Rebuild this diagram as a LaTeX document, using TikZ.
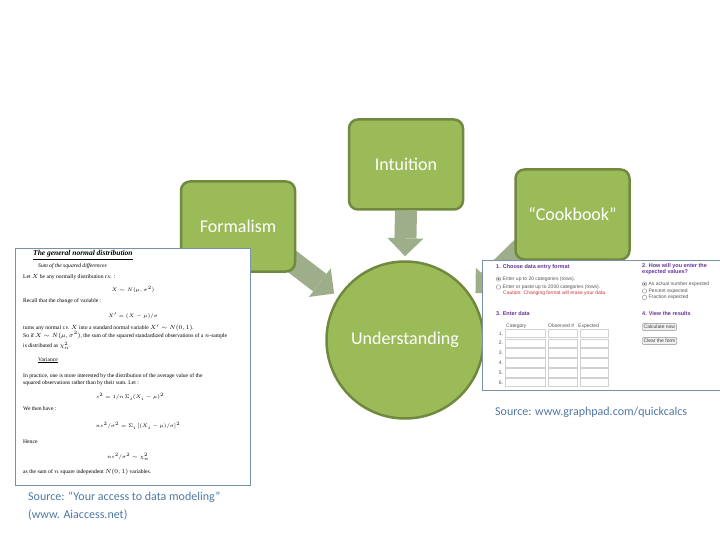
\documentclass[tikz,border=0pt]{standalone}
\usepackage{fontspec}
\usepackage{amsmath}
\newfontfamily\calibri{Carlito}
\newfontfamily\timesfont{Liberation Serif}
\newfontfamily\webfont{Liberation Sans}
\usetikzlibrary{arrows.meta,backgrounds,positioning}

\definecolor{leaf}{HTML}{9BBB59}
\definecolor{leafdark}{HTML}{71893F}
\definecolor{arrowgray}{HTML}{9FAE8A}
\definecolor{framegray}{HTML}{7791AE}
\definecolor{srcblue}{HTML}{5077A3}
\definecolor{webpurple}{HTML}{663399}
\definecolor{webred}{HTML}{CC3333}
\definecolor{webgray}{HTML}{555555}

\tikzset{
  idea/.style={draw=leafdark, fill=leaf, line width=2.5pt, rounded corners=9pt,
    minimum width=114pt, minimum height=90pt, text=white,
    font=\calibri\fontsize{18}{20}\selectfont},
  core/.style={circle, draw=leafdark, fill=leaf, line width=2.5pt,
    minimum size=157pt, text=white, font=\calibri\fontsize{18}{20}\selectfont},
  flow/.style={draw=arrowgray, line width=22pt,
    -{Triangle[length=18pt,width=36pt,line width=0pt]}},
  shot/.style={draw=framegray, fill=white, line width=1.2pt},
  source/.style={text=srcblue, font=\calibri\fontsize{12}{18}\selectfont,
    align=left, inner sep=0pt},
  docline/.style={anchor=west, inner sep=0pt, font=\timesfont\fontsize{5.6}{6.5}\selectfont},
  doceq/.style={inner sep=0pt, font=\timesfont\fontsize{5.3}{6}\selectfont},
  webline/.style={anchor=west, inner sep=0pt, text=webgray,
    font=\webfont\fontsize{5}{6}\selectfont},
  webhead/.style={anchor=west, inner sep=0pt, text=webpurple,
    font=\webfont\bfseries\fontsize{5.5}{6.5}\selectfont},
  cell/.style={draw=black!18, line width=0.5pt},
  radio/.style={circle, draw=black!45, fill=white, inner sep=0pt,
    minimum size=4.5pt, line width=0.4pt},
  radioon/.style={radio, path picture={\fill[black!60]
    (path picture bounding box.center) circle (1.1pt);}},
  webbutton/.style={draw=black!45, fill=black!6, rounded corners=1pt,
    inner sep=1.5pt, text=black!75, font=\webfont\fontsize{5}{6}\selectfont}
}

\begin{document}
\begin{tikzpicture}[x=1pt, y=-1pt]
  \useasboundingbox (0,0) rectangle (720,540);

  % the three ways in, and where they meet
  \node[idea] (intu) at (406,164.5) {Intuition};
  \node[idea] (form) at (238,226.5) {Formalism};
  \node[idea] (cook) at (572.5,214.5) {“Cookbook”};
  \node[core] (und) at (405,340) {Understanding};

  \begin{scope}[on background layer]
    \draw[flow, shorten >=4pt] (intu.south) -- (und.north);
    \draw[flow, shorten >=5pt] ([shift={(-13,-18)}]form.south east) -- (und.147);
    \draw[flow, shorten >=5pt] ([shift={(13,-18)}]cook.south west) -- (und.33);
  \end{scope}

  % left screenshot: the formal text
  \node[shot, anchor=north west, minimum width=235pt, minimum height=237pt] (doc) at (15,248) {};
  \node[docline, font=\timesfont\bfseries\itshape\fontsize{7.5}{8}\selectfont] (doctitle) at (33,255)
    {\underline{The general normal distribution}};
  \node[docline, font=\timesfont\itshape\fontsize{5.6}{6.5}\selectfont] (docsub) at (38,266)
    {Sum of the squared differences};
  \node[docline] (dl1) at (23,277) {Let $X$ be any normally distribution r.v. :};
  \node[doceq] (de1) at (133,290) {$X \sim N(\mu, \sigma^2)$};
  \node[docline] (dl2) at (23,301) {Recall that the change of variable :};
  \node[doceq] (de2) at (133,316) {$X' = (X - \mu)/\sigma$};
  \node[docline] (dl3) at (23,328) {turns any normal r.v. $X$ into a standard normal variable $X' \sim N(0,1)$.};
  \node[docline] (dl4) at (23,335) {So if $X \sim N(\mu, \sigma^2)$, the sum of the squared standardized observations of a $n$-sample};
  \node[docline] (dl5) at (23,346) {is distributed as $\chi^2_n$.};
  \node[docline] (dvar) at (38,360) {\underline{Variance}};
  \node[docline] (dl6) at (23,376) {In practice, one is more interested by the distribution of the average value of the};
  \node[docline] (dl7) at (23,383) {squared observations rather than by their sum. Let :};
  \node[doceq] (de3) at (130,397) {$s^2 = 1/n\,\Sigma_i(X_i - \mu)^2$};
  \node[docline] (dl8) at (23,409) {We then have :};
  \node[doceq] (de4) at (138,426) {$ns^2/\sigma^2 = \Sigma_i\,[(X_i - \mu)/\sigma]^2$};
  \node[docline] (dl9) at (23,442) {Hence};
  \node[doceq] (de5) at (128,457) {$ns^2/\sigma^2 \sim \chi^2_n$};
  \node[docline] (dl10) at (23,472) {as the sum of $n$ square independent $N(0,1)$ variables.};
  \node[source, anchor=north west] (docsrc) at (28,492)
    {Source: “Your access to data modeling”\\(www. Aiaccess.net)};

  % right screenshot: the calculator form
  \node[shot, anchor=north west, minimum width=242pt, minimum height=130pt] (calc) at (482,260) {};
  \node[webhead] (step1) at (496,267) {1. Choose data entry format};
  \node[radioon] (r1) at (498.5,279) {};
  \node[webline, right=1.5pt of r1] (r1txt) {Enter up to 20 categories (rows).};
  \node[radio] (r2) at (498.5,287) {};
  \node[webline, right=1.5pt of r2] (r2txt) {Enter or paste up to 2000 categories (rows).};
  \node[webline, text=webred] (caution) at (503,293) {Caution: Changing format will erase your data.};
  \node[webhead] (step3) at (496,314) {3. Enter data};
  \node[webline] (hcat) at (506,326) {Category};
  \node[webline] (hobs) at (548,326) {Observed \#};
  \node[webline] (hexp) at (578,326) {Expected};
  \foreach \r in {1,...,6} {
    \pgfmathsetmacro\ytop{329+(\r-1)*9.8}
    \node[webline, anchor=center] (row\r) at (501,\ytop+4.3) {\r.};
    \draw[cell] (505,\ytop) rectangle (545,\ytop+8.6);
    \draw[cell] (548,\ytop) rectangle (577,\ytop+8.6);
    \draw[cell] (580,\ytop) rectangle (608,\ytop+8.6);
  }
  \node[webhead, align=left, anchor=north west] (step2) at (642,263)
    {2. How will you enter the\\expected values?};
  \node[radioon] (r3) at (644.5,284) {};
  \node[webline, right=1.5pt of r3] (r3txt) {As actual number expected};
  \node[radio] (r4) at (644.5,291) {};
  \node[webline, right=1.5pt of r4] (r4txt) {Percent expected};
  \node[radio] (r5) at (644.5,297.5) {};
  \node[webline, right=1.5pt of r5] (r5txt) {Fraction expected};
  \node[webhead] (step4) at (642,314) {4. View the results};
  \node[webbutton, anchor=west] (calcbtn) at (642,327) {Calculate now};
  \node[webbutton, anchor=west] (clearbtn) at (642,341) {Clear the form};
  \node[source, anchor=west] (calcsrc) at (495,412) {Source: www.graphpad.com/quickcalcs};
\end{tikzpicture}
\end{document}
